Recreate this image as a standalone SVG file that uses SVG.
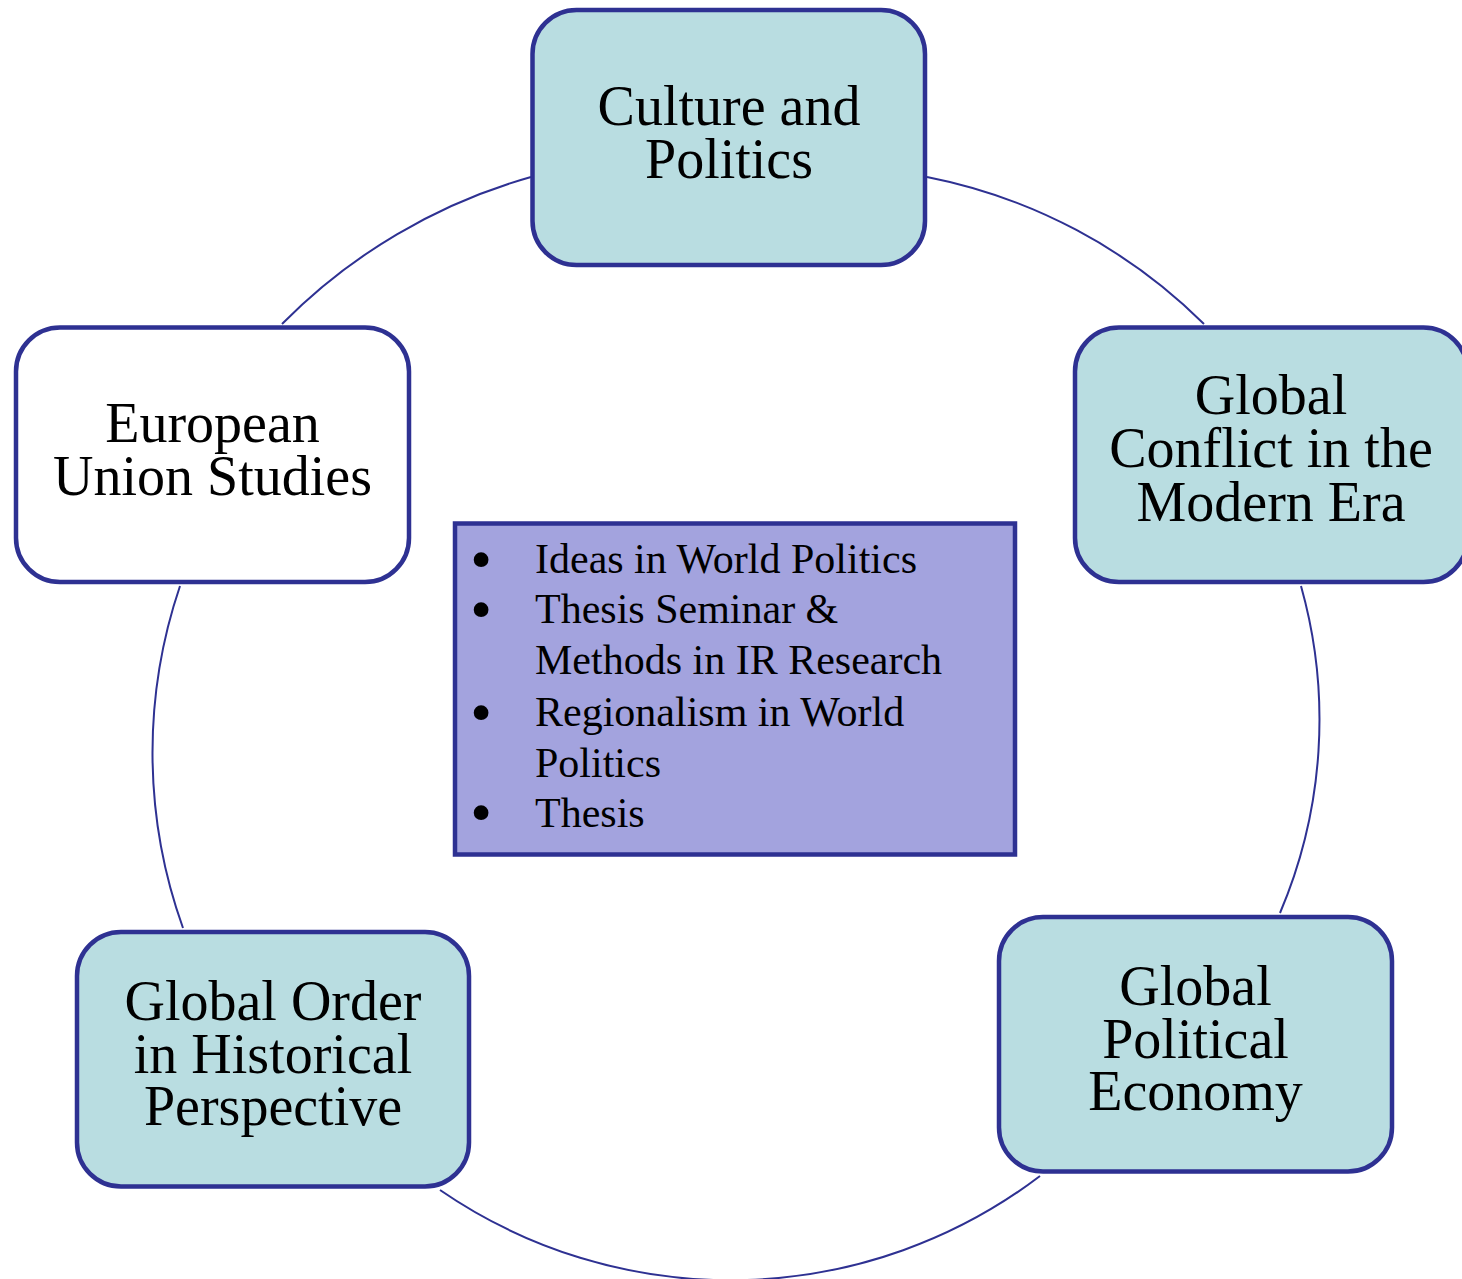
<svg xmlns="http://www.w3.org/2000/svg" width="1462" height="1279" viewBox="0 0 1462 1279">
<style>
.arc{fill:none;stroke:#2E3192;stroke-width:2}
.node{fill:#B9DDE1;stroke:#2E3192;stroke-width:4.5}
.white{fill:#FFFFFF}
.center{fill:#A3A3DE;stroke:#2E3192;stroke-width:4.5}
.t{font-family:"Liberation Serif","Times New Roman",serif;font-size:56px;fill:#000;text-anchor:middle}
.b{font-family:"Liberation Serif","Times New Roman",serif;font-size:42px;fill:#000}
.dot{font-family:"Liberation Serif","Times New Roman",serif;font-size:62px;fill:#000;text-anchor:middle}
</style>
<rect width="1462" height="1279" fill="#FFFFFF"/>
<g id="connectors">
<path class="arc" d="M 282 324 A 565 565 0 0 1 531 177"/>
<path class="arc" d="M 927 177 A 541 541 0 0 1 1204 324"/>
<path class="arc" d="M 1301 586 A 493 493 0 0 1 1280 913"/>
<path class="arc" d="M 1040 1176 A 512 512 0 0 1 440 1190"/>
<path class="arc" d="M 183 928 A 519 519 0 0 1 180 586"/>
</g>
<g id="culture-politics">
<rect class="node" x="532.5" y="10" width="392.5" height="255" rx="44"/>
<text class="t" x="729"><tspan x="729" y="125">Culture and</tspan><tspan x="729" y="178">Politics</tspan></text>
</g>
<g id="global-conflict">
<rect class="node" x="1075" y="327.5" width="392.5" height="254.5" rx="44"/>
<text class="t"><tspan x="1271" y="414">Global</tspan><tspan x="1271" y="467.3">Conflict in the</tspan><tspan x="1271" y="520.7">Modern Era</tspan></text>
</g>
<g id="global-political-economy">
<rect class="node" x="999" y="917" width="393" height="254.5" rx="44"/>
<text class="t"><tspan x="1195.5" y="1005">Global</tspan><tspan x="1195.5" y="1057.7">Political</tspan><tspan x="1195.5" y="1110">Economy</tspan></text>
</g>
<g id="global-order">
<rect class="node" x="77" y="932" width="392" height="254.5" rx="44"/>
<text class="t"><tspan x="273" y="1020">Global Order</tspan><tspan x="273" y="1072.7">in Historical</tspan><tspan x="273" y="1125">Perspective</tspan></text>
</g>
<g id="european-union">
<rect class="node white" x="16" y="327.5" width="393" height="254.5" rx="44"/>
<text class="t"><tspan x="212.5" y="441.7">European</tspan><tspan x="212.5" y="495">Union Studies</tspan></text>
</g>
<g id="center-list">
<rect class="center" x="455" y="523.5" width="560" height="331"/>
<text class="dot"><tspan x="481" y="579.5">•</tspan><tspan x="481" y="630">•</tspan><tspan x="481" y="732.7">•</tspan><tspan x="481" y="833.4">•</tspan></text>
<text class="b"><tspan x="535" y="572.7">Ideas in World Politics</tspan><tspan x="535" y="623.3">Thesis Seminar &amp;</tspan><tspan x="535" y="674.3">Methods in IR Research</tspan><tspan x="535" y="726">Regionalism in World</tspan><tspan x="535" y="776.7">Politics</tspan><tspan x="535" y="826.7">Thesis</tspan></text>
</g>
</svg>
